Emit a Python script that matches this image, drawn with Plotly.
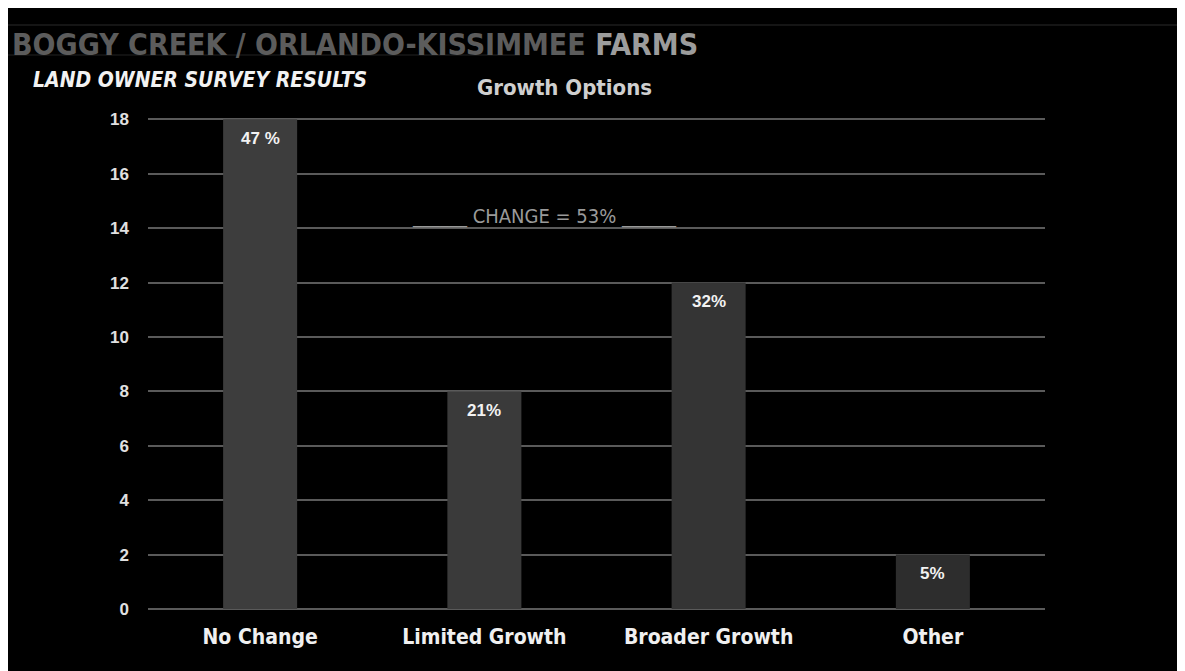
import plotly.graph_objects as go

categories = ["No Change", "Limited Growth", "Broader Growth", "Other"]
counts = [18, 8, 12, 2]
pct_labels = ["47 %", "21%", "32%", "5%"]
bar_colors = ["#3d3d3d", "#3a3a3a", "#343434", "#2d2d2d"]
y_ticks = [0, 2, 4, 6, 8, 10, 12, 14, 16, 18]

NARROW = "DejaVu Sans Condensed, Liberation Sans Narrow, sans-serif"

def px(X):
    return (X - 148) / 897

def py(Y):
    return (609 - Y) / 491

fig = go.Figure()
fig.add_trace(go.Bar(
    x=categories, y=counts,
    marker=dict(color=bar_colors, line=dict(width=0)),
    width=0.33, showlegend=False,
))

bar_label_annotations = [
    dict(x=c, y=v, text=t, xref="x", yref="y", showarrow=False,
         yanchor="middle", xanchor="center", yshift=-19,
         font=dict(family="Liberation Sans, Arial", size=17, color="#f2f2f2", weight="bold"))
    for c, v, t in zip(categories, counts, pct_labels)
]

fig.update_layout(
    width=1185, height=671,
    paper_bgcolor="#000000", plot_bgcolor="#000000",
    margin=dict(l=140, r=148, t=110, b=70),
    xaxis=dict(
        showgrid=False, showline=False, zeroline=False,
        tickfont=dict(family=NARROW, size=21, color="#f0f0f0", weight="bold"),
        ticklabelstandoff=13,
    ),
    yaxis=dict(
        range=[0, 18.05], tickvals=y_ticks,
        showgrid=True, gridcolor="#5a5a5a", gridwidth=1.5,
        zeroline=True, zerolinecolor="#5a5a5a", zerolinewidth=1.5,
        showline=False,
        tickfont=dict(family="Liberation Sans, Arial", size=17, color="#e0e0e0", weight="bold"),
        ticklabelstandoff=18,
    ),
    shapes=[
        dict(type="line", xref="paper", yref="paper", x0=px(5), x1=px(1185),
             y0=py(25), y1=py(25), line=dict(color="#2a2a2a", width=1)),
        dict(type="line", xref="paper", yref="paper", x0=px(5), x1=px(520),
             y0=py(55), y1=py(55), line=dict(color="#222222", width=1)),
    ],
    annotations=[
        dict(text="<span style='color:#5c5c5c'>BOGGY CREEK / ORLANDO-KISSIMMEE</span> <span style='color:#9c9c9c'>FARMS</span>",
             xref="paper", yref="paper", x=px(10), y=py(44),
             xanchor="left", yanchor="middle", showarrow=False,
             font=dict(family=NARROW, size=30, weight="bold")),
        dict(text="<i>LAND OWNER SURVEY RESULTS</i>",
             xref="paper", yref="paper", x=px(31), y=py(80),
             xanchor="left", yanchor="middle", showarrow=False,
             font=dict(family=NARROW, size=21, color="#f2f2f2", weight="bold")),
        dict(text="Growth Options",
             xref="paper", yref="paper", x=px(564), y=py(87),
             xanchor="center", yanchor="middle", showarrow=False,
             font=dict(family=NARROW, size=22, color="#cfcfcf", weight="bold")),
        dict(text="______ CHANGE = 53% ______",
             xref="paper", yref="paper", x=px(544), y=py(216),
             xanchor="center", yanchor="middle", showarrow=False,
             font=dict(family=NARROW, size=20, color="#9a9a9a")),
    ] + bar_label_annotations,
)

fig.write_html("out.html")
